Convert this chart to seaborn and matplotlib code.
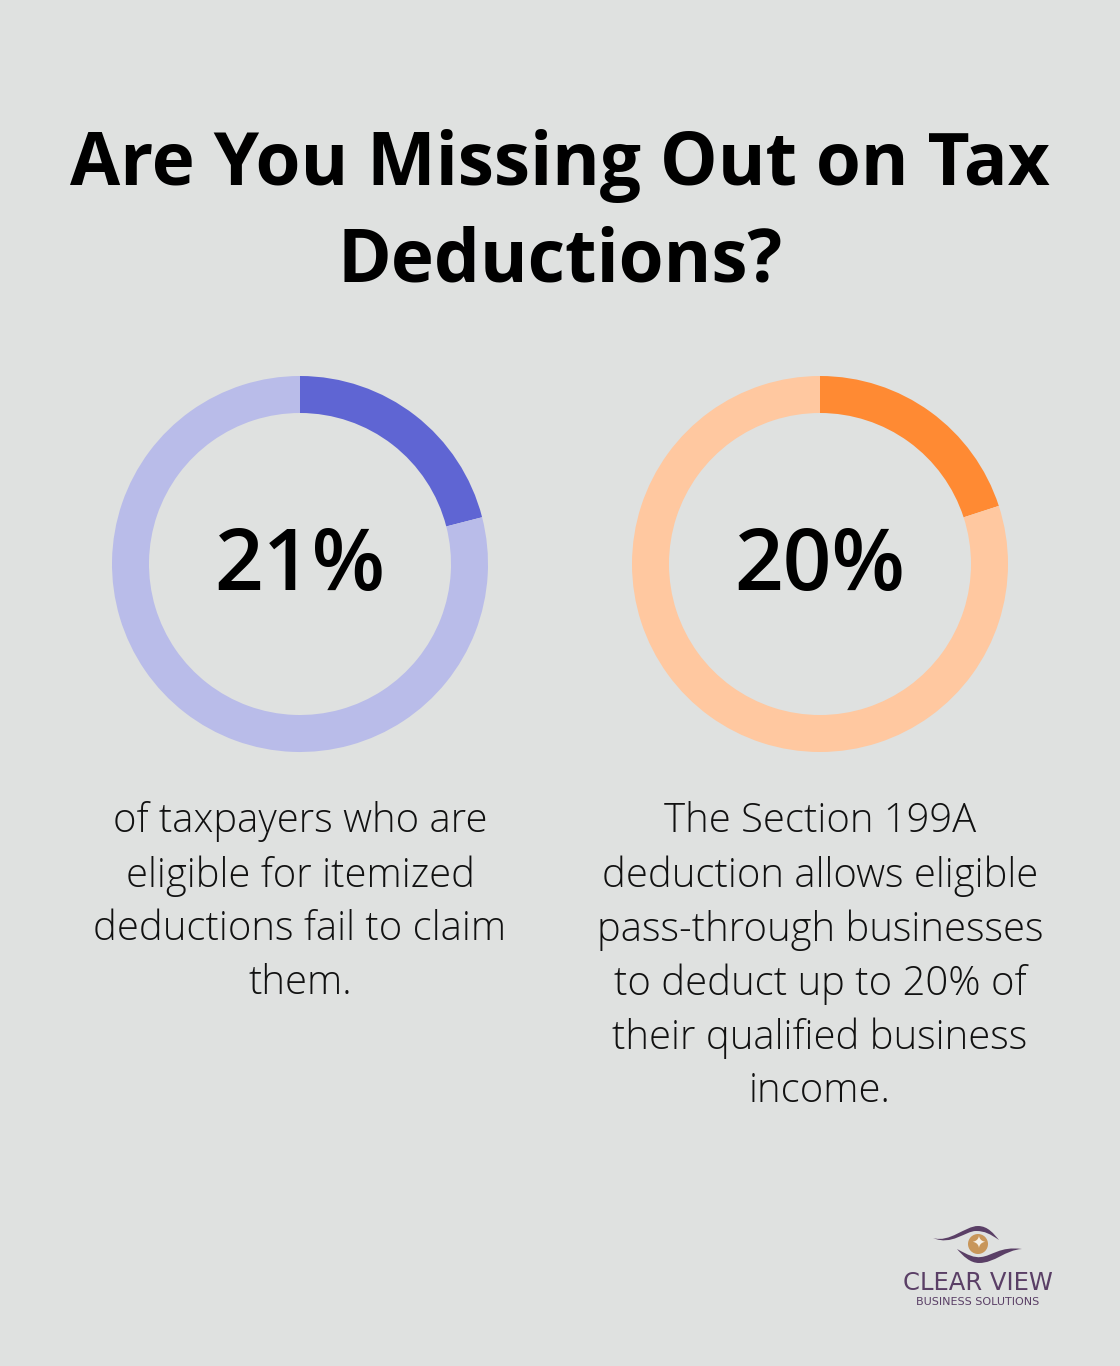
#!/usr/bin/env python3
# -*- coding: utf-8 -*-
import seaborn as sns
import matplotlib.pyplot as plt
from matplotlib.patches import PathPatch, Circle
from matplotlib.path import Path

title_lines = ["Are You Missing Out on Tax", "Deductions?"]
percents = [21, 20]
percent_labels = ["21%", "20%"]
ring_colors = ["#5F65D3", "#FF8A33"]
rest_colors = ["#B9BCE9", "#FFC8A0"]
captions = [
    ["of taxpayers who are", "eligible for itemized", "deductions fail to claim", "them."],
    ["The Section 199A", "deduction allows eligible", "pass-through businesses",
     "to deduct up to 20% of", "their qualified business", "income."],
]
logo_name = "CLEAR VIEW"
logo_sub = "BUSINESS SOLUTIONS"

bg = "#DFE1E0"
W, H = 1120, 1366

sns.set_theme(style="white")
plt.rcParams["font.family"] = ["Open Sans", "DejaVu Sans"]

fig = plt.figure(figsize=(W / 100, H / 100), dpi=100, facecolor=bg)
ax = fig.add_axes([0, 0, 1, 1])
ax.set_xlim(0, W); ax.set_ylim(H, 0)
ax.axis("off")

for i, line in enumerate(title_lines):
    ax.text(560, 157 + i * 97, line, ha="center", va="center_baseline",
            fontsize=52.4, fontweight="bold", color="black")

centers = [(300, 564), (820, 564)]
for j, (cx, cy) in enumerate(centers):
    pie_ax = fig.add_axes([(cx - 188) / W, 1 - (cy + 188) / H, 376 / W, 376 / H])
    pie_ax.pie([percents[j], 100 - percents[j]], colors=[ring_colors[j], rest_colors[j]],
               startangle=90, counterclock=False, radius=1,
               wedgeprops={"width": 37 / 188, "linewidth": 0})
    pie_ax.set_xlim(-1, 1); pie_ax.set_ylim(-1, 1)
    pie_ax.set_aspect("equal")
    ax.text(cx, cy + 4, percent_labels[j], ha="center", va="center",
            fontsize=61.5, fontweight="semibold", color="black")
    for k, line in enumerate(captions[j]):
        ax.text(cx, 822 + k * 54, line, ha="center", va="center",
                fontsize=28.8, fontweight="light", color="#111111")

# logo
logo_purple = "#5A3F66"
C = Path.CURVE4
ax.add_patch(PathPatch(Path(
    [(933, 1238), (950, 1243), (965, 1226), (978, 1226),
     (988, 1226), (994, 1234), (999, 1240),
     (990, 1234), (985, 1231), (976, 1231),
     (965, 1231), (952, 1246), (933, 1238)],
    [Path.MOVETO] + [C] * 12), fc=logo_purple, ec="none"))
ax.add_patch(PathPatch(Path(
    [(957, 1249), (968, 1255), (974, 1258), (981, 1257),
     (992, 1256), (1000, 1246), (1022, 1249),
     (1005, 1250), (995, 1263), (979, 1263),
     (970, 1263), (963, 1256), (957, 1249)],
    [Path.MOVETO] + [C] * 12), fc=logo_purple, ec="none"))
ax.add_patch(Circle((978, 1244), 10, fc="#C8965A", ec="none"))
ax.text(978, 1244, "✦", ha="center", va="center", fontsize=12, color="#F5EFE5",
        family=["DejaVu Sans"])
ax.text(978, 1283, logo_name, ha="center", va="center", fontsize=17.5,
        color=logo_purple, family=["DejaVu Sans"])
ax.text(978, 1302, logo_sub, ha="center", va="center", fontsize=8,
        color=logo_purple, family=["DejaVu Sans"])

fig.savefig("out.png", dpi=100, facecolor=bg)
plt.close()
